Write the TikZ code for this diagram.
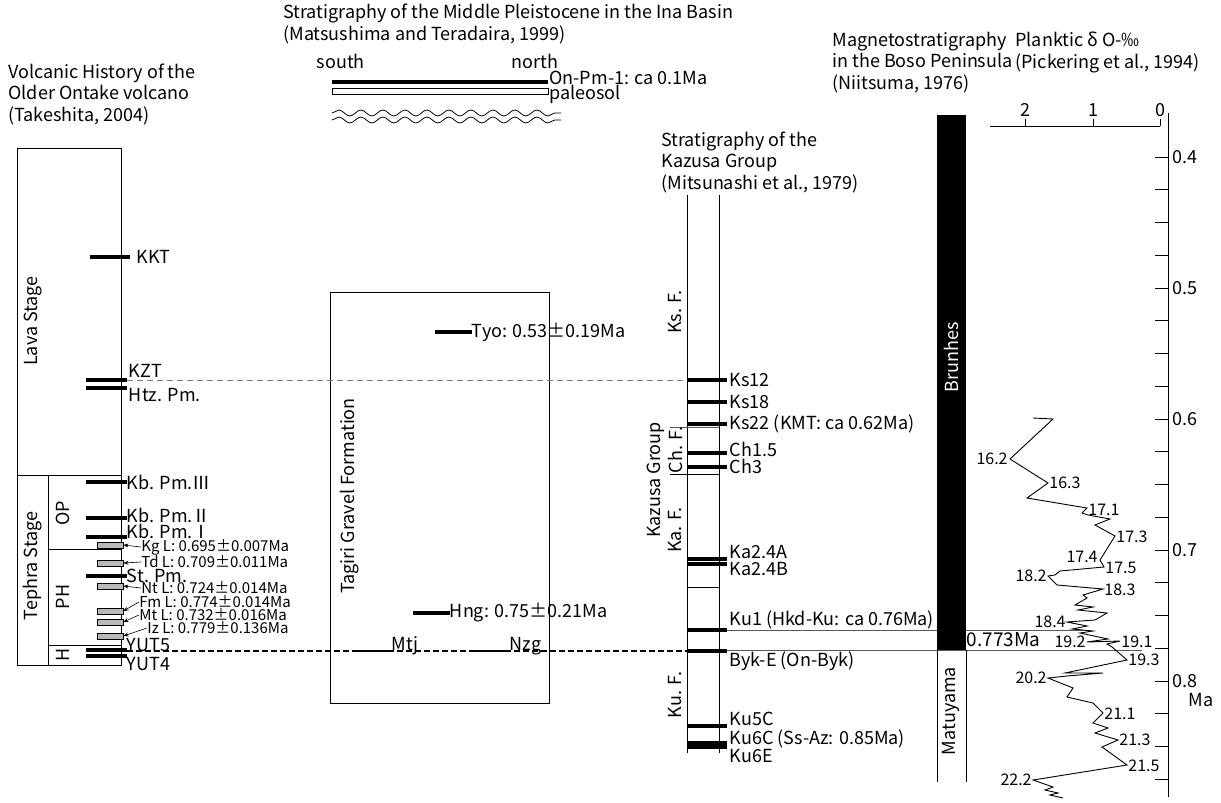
\documentclass[tikz,border=0pt]{standalone}
\usepackage{fontspec}
\setmainfont{Noto Sans CJK JP}
\usetikzlibrary{positioning,arrows.meta,decorations.pathmorphing}
\newcommand{\tsz}{\fontsize{18}{21.5}\selectfont}
\newcommand{\lsz}{\fontsize{18}{20}\selectfont}
\newcommand{\ssz}{\fontsize{15}{16}\selectfont}
\newcommand{\vsz}{\fontsize{16}{17}\selectfont}
\begin{document}
\begin{tikzpicture}[x=1pt, y=-1pt, line width=0.8pt,
  title/.style={font=\tsz, align=left, anchor=base west, inner sep=0pt},
  lbl/.style={font=\lsz, anchor=west, inner sep=0.5pt},
  small/.style={font=\ssz, anchor=west, inner sep=0pt},
  val/.style={font=\vsz, inner sep=1pt},
  vlab/.style={font=\lsz, rotate=90, inner sep=0pt},
  bar/.style={line width=4.5pt},
  tbar/.style={line width=2.5pt},
  gbox/.style={draw, fill=gray!55, minimum width=26pt, minimum height=6pt, inner sep=0pt},
  arr/.style={-{Stealth[length=5pt,width=4pt]}, line width=0.6pt},
  corr/.style={dash pattern=on 6pt off 4pt, gray, line width=0.7pt},
  tie/.style={gray!70!black, line width=0.7pt}]
\useasboundingbox (0,0) rectangle (1221,803);
% titles (base = last line)
\node[title] (ontT) at (8,121) {Volcanic History of the\\Older Ontake volcano\\(Takeshita, 2004)};
\node[title] (inaT) at (283,40) {Stratigraphy of the Middle Pleistocene in the Ina Basin\\(Matsushima and Teradaira, 1999)};
\node[title] (kzT) at (661,189) {Stratigraphy of the\\Kazusa Group\\(Mitsunashi et al., 1979)};
\node[title] (magT) at (832,89) {Magnetostratigraphy\\in the Boso Peninsula\\(Niitsuma, 1976)};
\node[title] (pkT) at (1015,68) {Planktic δ O-‰\\(Pickering et al., 1994)};

% Ontake column
\draw (17,148) rectangle (121,665);
\draw (17,475) -- (121,475);
\draw (48,475) -- (48,665);
\draw (48,549) -- (121,549);
\draw (48,645) -- (121,645);
\node[vlab] (lava) at (33,321) {Lava Stage};
\node[vlab] (tephra) at (33,566) {Tephra Stage};
\node[vlab] (op) at (63,513) {OP};
\node[vlab] (ph) at (63,597) {PH};
\node[vlab] (hh) at (63,655) {H};
\draw[bar] (90,257) -- (130,257);
\foreach \y in {380,388,482,518,537,576,650,656}
  \draw[bar] (86,\y) -- (127,\y);
\node[lbl] (kkt) at (136,257) {KKT};
\node[lbl] (kzt) at (128,371) {KZT};
\node[lbl] (htz) at (128,395) {Htz. Pm.};
\node[lbl] (kb3) at (126,482) {Kb. Pm.Ⅲ};
\node[lbl] (kb2) at (126,515) {Kb. Pm.Ⅱ};
\node[lbl] (kb1) at (126,531) {Kb. Pm.Ⅰ};
\node[lbl] (stpm) at (126,576) {St. Pm.};
\node[lbl] (yut5) at (126,645) {YUT5};
\node[lbl] (yut4) at (126,664) {YUT4};
% tephra layers
\node[gbox] (gkg) at (110,545) {};
\node[gbox] (gtd) at (110,563) {};
\node[gbox] (gnt) at (110,586) {};
\node[gbox] (gfm) at (110,611) {};
\node[gbox] (gmt) at (110,622) {};
\node[gbox] (giz) at (110,636) {};
\node[small] (kgl) at (141,547) {Kg L: 0.695±0.007Ma};
\node[small] (tdl) at (141,562) {Td L: 0.709±0.011Ma};
\node[small] (ntl) at (141,588) {Nt L: 0.724±0.014Ma};
\node[small] (fml) at (139,602) {Fm L: 0.774±0.014Ma};
\node[small] (mtl) at (139,615) {Mt L: 0.732±0.016Ma};
\node[small] (izl) at (147,628) {Iz L: 0.779±0.136Ma};
\draw[arr] (kgl.west) -- (gkg.east);
\draw[arr] (tdl.west) -- (gtd.east);
\draw[arr] (ntl.west) -- (gnt.east);
\draw[arr] (fml.west) -- (gfm.east);
\draw[arr] (mtl.west) -- (gmt.east);
\draw[arr] (izl.west) -- (giz.east);

% Ina Basin section
\node[lbl, anchor=base west] (south) at (316,68) {south};
\node[lbl, anchor=base west] (north) at (511,68) {north};
\draw[bar] (332,82) -- (548,82);
\draw (332,88) rectangle (548,94);
\foreach \y in {113,120}
  \draw[decorate, decoration={snake, amplitude=3pt, segment length=22pt}] (332,\y) -- (561,\y);
\node[lbl, inner sep=0pt] (onpm) at (549,78) {On-Pm-1: ca 0.1Ma};
\node[lbl, inner sep=0pt] (paleo) at (549,94) {paleosol};
\draw (330,292) rectangle (549,703);
\node[vlab] (tagiri) at (350,496) {Tagiri Gravel Formation};
\draw[bar] (435,332) -- (472,332);
\node[lbl] (tyo) at (471,332) {Tyo: 0.53±0.19Ma};
\draw[bar] (413,613) -- (450,613);
\node[lbl] (hng) at (449,613) {Hng: 0.75±0.21Ma};
\draw[tbar] (353,651) -- (392,651);
\node[lbl, anchor=base west] (mtj) at (391,650) {Mtj};
\draw[tbar] (473,651) -- (510,651);
\node[lbl, anchor=base west] (nzg) at (509,650) {Nzg};

% Kazusa Group
\draw (687,195) -- (687,753);
\draw (719,195) -- (719,753);
\draw[tie] (670,427) -- (719,427);
\draw (670,474) -- (719,474);
\draw (687,587) -- (719,587);
\node[vlab] (ksf) at (675,312) {Ks. F.};
\node[vlab] (chf) at (675,450) {Ch. F.};
\node[vlab] (kaf) at (675,530) {Ka. F.};
\node[vlab] (kuf) at (675,695) {Ku. F.};
\node[vlab] (kzg) at (656,480) {Kazusa Group};
\foreach \y in {380,402,424,453,467,559,564,630,651,726,743,747}
  \draw[bar] (687,\y) -- (727,\y);
\node[lbl] (ks12) at (729,380) {Ks12};
\node[lbl] (ks18) at (729,402) {Ks18};
\node[lbl] (ks22) at (729,424) {Ks22 (KMT: ca 0.62Ma)};
\node[lbl] (ch15) at (729,449) {Ch1.5};
\node[lbl] (ch3) at (729,466) {Ch3};
\node[lbl] (ka4a) at (729,552) {Ka2.4A};
\node[lbl] (ka4b) at (729,569) {Ka2.4B};
\node[lbl] (ku1) at (729,620) {Ku1 (Hkd-Ku: ca 0.76Ma)};
\node[lbl] (byke) at (729,661) {Byk-E (On-Byk)};
\node[lbl] (ku5c) at (729,719) {Ku5C};
\node[lbl] (ku6c) at (729,739) {Ku6C (Ss-Az: 0.85Ma)};
\node[lbl] (ku6e) at (729,756) {Ku6E};

% correlation lines
\draw[corr] (127,380) -- (687,380);
\draw[dash pattern=on 6pt off 3pt, line width=1.3pt] (127,651) -- (687,651);
\draw[tie] (727,630) -- (1083,630);
\draw[tie] (727,650) -- (1142,650);

% polarity
\fill (937,115) rectangle (966,650);
\node[vlab, white] (brunhes) at (951,357) {Brunhes};
\draw (937,650) -- (937,782);
\draw (966,650) -- (966,782);
\node[vlab] (matuyama) at (951,711) {Matuyama};
\node[lbl, font=\fontsize{19}{20}\selectfont] (bm) at (966,640) {0.773Ma};

% axes
\draw (1168,113) -- (1168,797);
\foreach \i in {0,...,19}
  \draw (1155,{157+32.75*\i}) -- (1168,{157+32.75*\i});
\foreach \t/\y in {0.4/157,0.5/288,0.6/419,0.7/550,0.8/681}
  \node[lbl] (ax\y) at (1172,\y) {\t};
\node[lbl] (ma) at (1188,700) {Ma};
\draw (990,126) -- (1160,126);
\foreach \v/\x in {2/1025,1/1093,0/1160} {
  \draw (\x,126) -- (\x,119);
  \node[font=\lsz, anchor=base, inner sep=0pt] (tk\v) at (\x,116) {\v};
}

% oxygen isotope curve
\draw[line width=0.9pt] (1033,418) -- (1053,419) -- (1010,459) -- (1048,483) -- (1027,498)
  -- (1087,508) -- (1082,513) -- (1088,515) -- (1110,519) -- (1095,525) -- (1115,536)
  -- (1100,560) -- (1104,567) -- (1060,571) -- (1055,575) -- (1048,576) -- (1057,585)
  -- (1103,589) -- (1083,595) -- (1087,598) -- (1075,605) -- (1093,607) -- (1078,610)
  -- (1107,613) -- (1095,620) -- (1067,622) -- (1087,626) -- (1072,629) -- (1093,631)
  -- (1080,633) -- (1108,639) -- (1087,642) -- (1120,641) -- (1107,644) -- (1112,647)
  -- (1127,660) -- (1065,673) -- (1103,673) -- (1067,676) -- (1048,678) -- (1073,688)
  -- (1067,697) -- (1093,703) -- (1103,713) -- (1093,723) -- (1108,728) -- (1095,733)
  -- (1118,740) -- (1102,747) -- (1127,765) -- (1033,780) -- (1053,787) -- (1045,790)
  -- (1058,793) -- (1050,795) -- (1063,798);
\node[val, anchor=east] (v162) at (1009,459) {16.2};
\node[val, anchor=west] (v163) at (1048,483) {16.3};
\node[val, anchor=west] (v171) at (1087,510) {17.1};
\node[val, anchor=west] (v173) at (1115,537) {17.3};
\node[val, anchor=east] (v174) at (1099,557) {17.4};
\node[val, anchor=west] (v175) at (1104,568) {17.5};
\node[val, anchor=east] (v182) at (1048,576) {18.2};
\node[val, anchor=west] (v183) at (1103,590) {18.3};
\node[val, anchor=east] (v184) at (1067,622) {18.4};
\node[val, anchor=east] (v192) at (1087,642) {19.2};
\node[val, anchor=west] (v191) at (1120,642) {19.1};
\node[val, anchor=west] (v193) at (1127,660) {19.3};
\node[val, anchor=east] (v202) at (1048,678) {20.2};
\node[val, anchor=west] (v211) at (1103,714) {21.1};
\node[val, anchor=west] (v213) at (1118,740) {21.3};
\node[val, anchor=west] (v215) at (1127,766) {21.5};
\node[val, anchor=east] (v222) at (1033,780) {22.2};
\end{tikzpicture}
\end{document}
